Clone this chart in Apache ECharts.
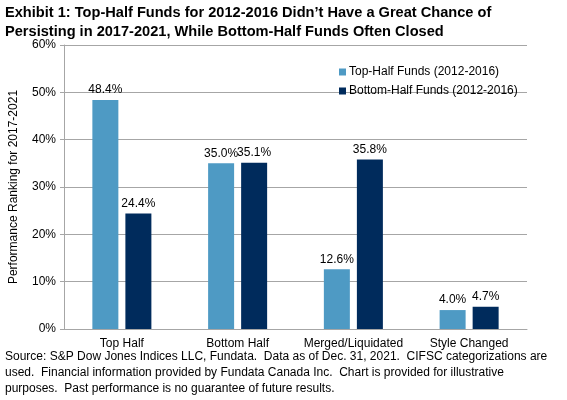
<!DOCTYPE html>
<html><head><meta charset="utf-8">
<script src="https://cdn.jsdelivr.net/npm/echarts@6/dist/echarts.min.js"></script>
<style>html,body{margin:0;padding:0;background:#fff}#c{width:567px;height:400px}</style>
</head><body><div id="c"></div>
<script>
var categories = ['Top Half', 'Bottom Half', 'Merged/Liquidated', 'Style Changed'];
var topHalf = [48.4, 35.0, 12.6, 4.0];
var bottomHalf = [24.4, 35.1, 35.8, 4.7];
var seriesNames = ['Top-Half Funds (2012-2016)', 'Bottom-Half Funds (2012-2016)'];
var titleText = 'Exhibit 1: Top-Half Funds for 2012-2016 Didn\u2019t Have a Great Chance of\nPersisting in 2017-2021, While Bottom-Half Funds Often Closed';
var footText = 'Source: S&P Dow Jones Indices LLC, Fundata.  Data as of Dec. 31, 2021.  CIFSC categorizations are\nused.  Financial information provided by Fundata Canada Inc.  Chart is provided for illustrative\npurposes.  Past performance is no guarantee of future results.';
var font = 'Arial, "Liberation Sans", sans-serif';
var chart = echarts.init(document.getElementById('c'));
var lbl = {show:true, position:'top', distance:4, color:'#000', fontFamily:font, fontSize:12,
  formatter:function(p){return p.value.toFixed(1)+'%';}};
chart.setOption({
  animation:false,
  title:[{text:titleText, left:5, top:3, padding:0, textStyle:{fontFamily:font, fontSize:14.6, fontWeight:'bold', color:'#000', lineHeight:19}},
         {text:footText, left:5, top:349, padding:0, textStyle:{fontFamily:font, fontSize:12, fontWeight:'normal', color:'#000', lineHeight:16}}],
  legend:{orient:'vertical', left:334, top:61, itemWidth:7, itemHeight:7, itemGap:7, icon:'rect',
    textStyle:{fontFamily:font, fontSize:12, color:'#000', padding:[0,0,0,-2]}, data:seriesNames},
  grid:{left:63, right:40, top:45, bottom:71},
  xAxis:{type:'category', data:categories,
    axisLine:{lineStyle:{color:'#A6A6A6'}}, axisTick:{show:false},
    axisLabel:{interval:0, color:'#000', fontFamily:font, fontSize:12, margin:9}},
  yAxis:{type:'value', min:0, max:60, interval:10,
    name:'Performance Ranking for 2017-2021', nameLocation:'middle', nameGap:44,
    nameTextStyle:{fontFamily:font, fontSize:12, color:'#000'},
    axisLine:{show:true, lineStyle:{color:'#A6A6A6'}},
    axisTick:{show:true, length:4, lineStyle:{color:'#A6A6A6'}},
    splitLine:{lineStyle:{color:'#A6A6A6'}},
    axisLabel:{formatter:'{value}%', color:'#000', fontFamily:font, fontSize:12, margin:8}},
  series:[
    {name:seriesNames[0], type:'bar', data:topHalf, barWidth:26, barGap:'27%', itemStyle:{color:'#4E9AC4'}, label:lbl},
    {name:seriesNames[1], type:'bar', data:bottomHalf, barWidth:26, itemStyle:{color:'#002B5C'}, label:lbl}
  ]
});
</script></body></html>
